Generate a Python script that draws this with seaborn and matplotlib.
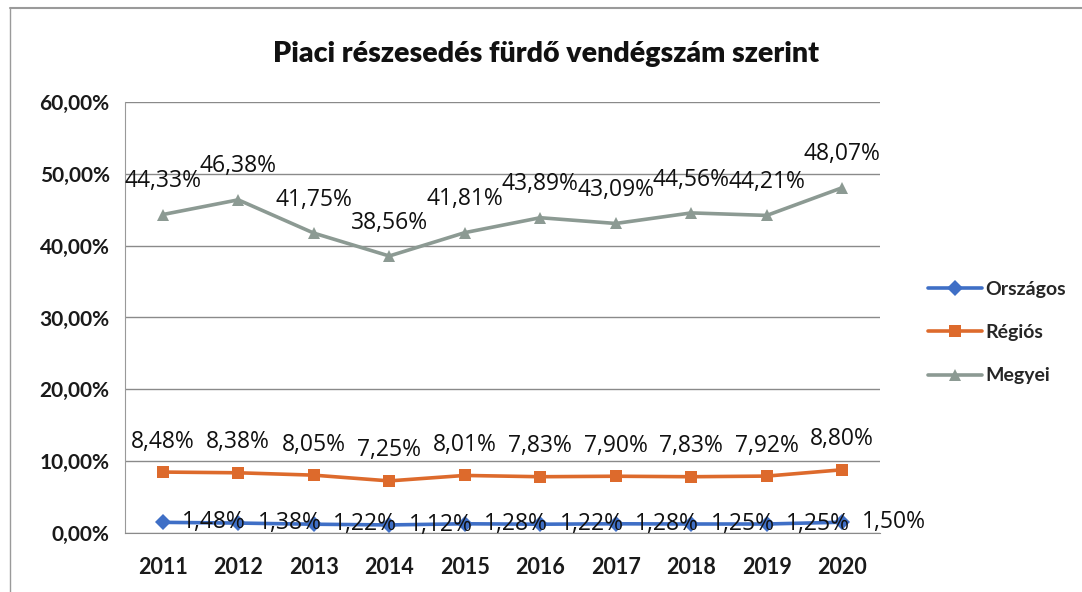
import pandas as pd
import matplotlib.pyplot as plt
import seaborn as sns

# === DATA ===
years = ['2011', '2012', '2013', '2014', '2015', '2016', '2017', '2018', '2019', '2020']
orszagos = [1.48, 1.38, 1.22, 1.12, 1.28, 1.22, 1.28, 1.25, 1.25, 1.50]
regios = [8.48, 8.38, 8.05, 7.25, 8.01, 7.83, 7.90, 7.83, 7.92, 8.80]
megyei = [44.33, 46.38, 41.75, 38.56, 41.81, 43.89, 43.09, 44.56, 44.21, 48.07]
series_names = ['Országos', 'Régiós', 'Megyei']
y_ticks = [0, 10, 20, 30, 40, 50, 60]

rows = []
for name, vals in zip(series_names, [orszagos, regios, megyei]):
    for i, (yr, v) in enumerate(zip(years, vals)):
        rows.append({'idx': i, 'year': yr, 'series': name, 'value': v})
df = pd.DataFrame(rows)

# === STYLE ===
sns.set_style('white')
plt.rcParams['font.family'] = ['Lato', 'DejaVu Sans']

colors = {'Országos': '#3F6FC6', 'Régiós': '#DD6A2C', 'Megyei': '#8C9A93'}
markers = {'Országos': 'D', 'Régiós': 's', 'Megyei': '^'}

fig = plt.figure(figsize=(10.82, 5.92), dpi=100)
ax = fig.add_axes([0.1155, 0.0997, 0.6978, 0.728])

sns.lineplot(data=df, x='idx', y='value', hue='series', style='series',
             hue_order=series_names, style_order=series_names,
             palette=colors, markers=markers, dashes=False,
             markersize=8, linewidth=2.6, markeredgewidth=0, ax=ax)

ax.set_xlim(-0.5, 9.5)
ax.set_ylim(0, 60)
ax.set_yticks(y_ticks)
ax.set_yticklabels([f'{t:.2f}%'.replace('.', ',') for t in y_ticks],
                   fontsize=15, fontweight='bold', color='#1a1a1a')
ax.set_xticks(range(len(years)))
ax.set_xticklabels(years, fontsize=15.5, fontweight='bold', color='#1a1a1a')
ax.set_xticks([i - 0.5 for i in range(len(years) + 1)], minor=True)
ax.tick_params(axis='x', which='major', length=0, pad=17)
ax.tick_params(axis='x', which='minor', length=5, color='#888888', direction='out')
ax.tick_params(axis='y', length=5, color='#888888', pad=6)
ax.set_xlabel('')
ax.set_ylabel('')

ax.grid(axis='y', color='#8a8a8a', linewidth=1.0)
for s in ['top', 'right']:
    ax.spines[s].set_visible(False)
ax.spines['left'].set_color('#999999')
ax.spines['bottom'].set_color('#8a8a8a')

# === DATA LABELS ===
label_font = dict(family=['Open Sans', 'DejaVu Sans'], fontsize=16.5, color='#111111')
for i, v in enumerate(megyei):
    ax.annotate(f'{v:.2f}%'.replace('.', ','), (i, v), xytext=(0, 24),
                textcoords='offset points', ha='center', va='center', **label_font)
for i, v in enumerate(regios):
    ax.annotate(f'{v:.2f}%'.replace('.', ','), (i, v), xytext=(0, 22),
                textcoords='offset points', ha='center', va='center', **label_font)
for i, v in enumerate(orszagos):
    ax.annotate(f'{v:.2f}%'.replace('.', ','), (i, v), xytext=(14, 0),
                textcoords='offset points', ha='left', va='center', **label_font)

# === LEGEND ===
handles, labels = ax.get_legend_handles_labels()
leg = ax.legend(handles, labels, loc='center left', bbox_to_anchor=(1.04, 0.465),
                frameon=False, fontsize=14, handlelength=2.8, labelspacing=1.35,
                handletextpad=0.15)
for t in leg.get_texts():
    t.set_fontweight('bold')

fig.suptitle('Piaci részesedés fürdő vendégszám szerint', x=0.505, y=0.93,
             fontsize=20.5, fontweight='heavy', color='#111111')

# chart frame lines (top and left)
fig.add_artist(plt.Line2D([0.009, 1.0], [0.986, 0.986], color='#9a9a9a', linewidth=1.5))
fig.add_artist(plt.Line2D([0.009, 0.009], [0.0, 0.986], color='#9a9a9a', linewidth=1.0))

fig.savefig('out.png', dpi=100)
plt.close()
